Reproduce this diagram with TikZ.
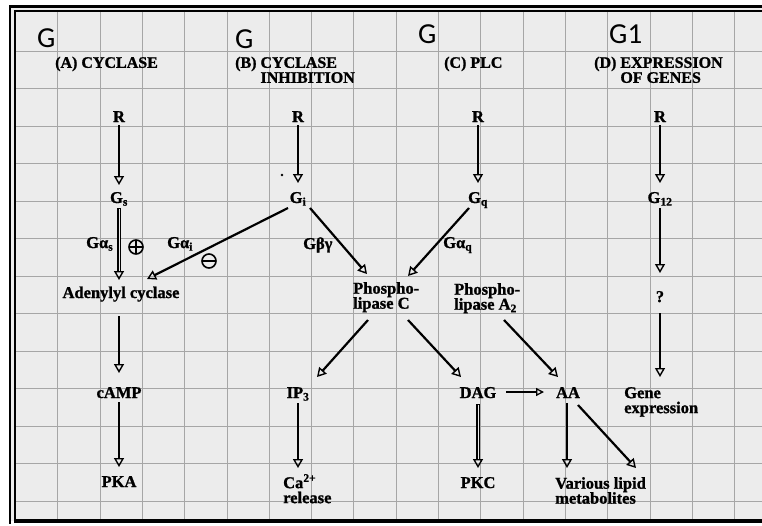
\documentclass[tikz,border=0pt]{standalone}
\usepackage{fontspec}
\setmainfont{Liberation Serif}[BoldFont=Liberation Serif Bold, BoldFeatures={FakeBold=1.2}]
\newfontfamily\calib{Carlito}
\usetikzlibrary{arrows.meta,calc}
\definecolor{bg}{HTML}{ECECEC}
\definecolor{gridc}{HTML}{A6A6A6}
\tikzset{
  lbl/.style={font=\fontsize{16.5}{15}\selectfont\bfseries, inner sep=0pt, anchor=base},
  ml/.style={font=\fontsize{16.5}{15}\selectfont\bfseries, inner sep=0pt, anchor=north west, align=left},
  hdr/.style={font=\fontsize{16}{15}\selectfont\bfseries, inner sep=0pt, anchor=north west, align=left},
  sm/.style={font=\fontsize{16.5}{15}\selectfont\bfseries, inner sep=0pt, anchor=base west},
  gl/.style={font=\calib\fontsize{29}{30}\selectfont, inner sep=0pt, anchor=base west},
  gridline/.style={gridc, line width=0.9pt},
  arr/.style={line width=2.6pt, -{Triangle[open,length=9pt,width=10pt,line width=1.4pt]}},
  darr/.style={line width=2.2pt, -{Triangle[open,length=9pt,width=10pt,line width=1.4pt]}},
  tarr/.style={line width=1.5pt, -{Triangle[open,length=8pt,width=8pt,line width=1.3pt]}},
  hollow/.style={line width=3.2pt, -{Triangle[open,length=9pt,width=10pt,line width=1.4pt]}, postaction={draw=bg, line width=1.0pt, -, shorten >=9.5pt, shorten <=0.5pt}},
  sign/.style={circle, draw, line width=1.6pt, minimum size=14pt, inner sep=0pt}
}
\begin{document}
\begin{tikzpicture}[x=1pt,y=-1pt]
\useasboundingbox (0,0) rectangle (762,525);
\fill[white] (0,0) rectangle (762,525);
\fill[bg] (10,6) rectangle (762,521);
% grid
\foreach \i in {1,...,17} \draw[gridline] ({15.5+42.3*\i},11) -- ({15.5+42.3*\i},521);
\foreach \j in {1,...,13} \draw[gridline] (15,{13.5+37.5*\j}) -- (762,{13.5+37.5*\j});
% frame
\draw[line width=2.6pt] (9,6.3) -- (762,6.3);
\draw[line width=1.8pt] (14,11) -- (762,11);
\draw[line width=1.8pt] (10,5) -- (10,524);
\draw[line width=2.6pt] (15,10) -- (15,521);
\draw[line width=3.2pt] (14,521) -- (762,521);

% G labels
\node[gl] (g1) at (37,47) {G};
\node[gl] (g2) at (235,48) {G};
\node[gl] (g3) at (418,43) {G};
\node[gl] (g4) at (609,43) {G1};

% headers
\node[hdr] (hA) at (55,56.5) {(A) CYCLASE};
\node[hdr] (hB) at (235,56.5) {(B) CYCLASE\\\hphantom{(B) }INHIBITION};
\node[hdr] (hC) at (444,56.5) {(C) PLC};
\node[hdr] (hD) at (594,56.5) {(D) EXPRESSION\\\hphantom{(D) }OF GENES};

% column A
\node[lbl] (RA) at (119,122) {R};
\node[lbl] (Gs) at (119,203) {G\textsubscript{s}};
\node[lbl] (AC) at (121,298) {Adenylyl cyclase};
\node[lbl] (cAMP) at (119,398) {cAMP};
\node[lbl] (PKA) at (119,487) {PKA};
\node[sm] (Gas) at (86,248) {Gα\textsubscript{s}};
\node[sign, path picture={\draw[line width=1.6pt] (path picture bounding box.west) -- (path picture bounding box.east) (path picture bounding box.north) -- (path picture bounding box.south);}] (plus) at (136,247) {};
\node[sm] (Gai) at (167,248) {Gα\textsubscript{i}};
\node[sign, path picture={\draw[line width=1.6pt] (path picture bounding box.west) -- (path picture bounding box.east);}] (minus) at (209,261) {};

% column B
\node[lbl] (RB) at (298,122) {R};
\node[lbl] (Gi) at (298,203) {G\textsubscript{i}};
\fill (282,175) circle (1.3);
\node[sm] (Gbg) at (303,249) {Gβγ};
\node[ml] (PLC) at (353,282) {Phospho-\\lipase C};
\node[lbl] (IP3) at (298,398) {IP\textsubscript{3}};
\node[ml] (Ca) at (283,477) {Ca\smash{\textsuperscript{2+}}\\release};

% column C
\node[lbl] (RC) at (478,122) {R};
\node[lbl] (Gq) at (478,203) {G\textsubscript{q}};
\node[sm] (Gaq) at (443,248) {Gα\textsubscript{q}};
\node[ml] (PLA) at (454,283) {Phospho-\\lipase A\textsubscript{2}};
\node[lbl] (DAG) at (478,398) {DAG};
\node[lbl] (AA) at (568,398) {AA};
\node[lbl] (PKC) at (478,488) {PKC};
\node[ml] (VLM) at (555,477) {Various lipid\\metabolites};

% column D
\node[lbl] (RD) at (660,122) {R};
\node[lbl] (G12) at (660,203) {G\textsubscript{12}};
\node[lbl] (Q) at (660,302) {?};
\node[ml] (Gene) at (624,387) {Gene\\expression};

% connectors
\draw[arr] ($(RA.base)+(0,3)$) -- ($(Gs.base)+(0,-18)$);
\draw[hollow] ($(Gs.base)+(0,5)$) -- ($(AC.base)+(-2,-18)$);
\draw[arr] ($(AC.base)+(-2,18)$) -- ($(cAMP.base)+(0,-25)$);
\draw[arr] ($(cAMP.base)+(0,4)$) -- ($(PKA.base)+(0,-20)$);

\draw[arr] ($(RB.base)+(0,3)$) -- ($(Gi.base)+(0,-20)$);
\draw[darr] ($(Gi.base)+(-10,5)$) -- ($(AC.base)+(26,-19)$);
\draw[darr] ($(Gi.base)+(12,5)$) -- ($(PLC.north west)+(14,-8)$);

\draw[arr] ($(RC.base)+(0,3)$) -- ($(Gq.base)+(0,-20)$);
\draw[darr] ($(Gq.base)+(-9,5)$) -- ($(PLC.north west)+(55,-6)$);

\draw[arr] ($(RD.base)+(0,3)$) -- ($(G12.base)+(0,-20)$);
\draw[arr] ($(G12.base)+(0,5)$) -- ($(Q.base)+(0,-29)$);
\draw[arr] ($(Q.base)+(0,11)$) -- ($(Gene.north west)+(36,-10)$);

\draw[darr] ($(PLC.north west)+(15,38)$) -- ($(IP3.base)+(19,-21)$);
\draw[darr] ($(PLC.north west)+(55,38)$) -- ($(DAG.base)+(-17,-21)$);
\draw[darr] ($(PLA.north west)+(50,37)$) -- ($(AA.base)+(-10,-21)$);
\draw[tarr] ($(DAG.base)+(28,-6)$) -- ($(AA.base)+(-24,-6)$);
\draw[arr] ($(IP3.base)+(0,5)$) -- ($(Ca.north west)+(15,-9)$);
\draw[hollow] ($(DAG.base)+(0,6)$) -- ($(PKC.base)+(0,-20)$);
\draw[arr] ($(AA.base)+(-1,5)$) -- ($(VLM.north west)+(12,-9)$);
\draw[darr] ($(AA.base)+(10,7)$) -- ($(VLM.north west)+(81,-9)$);
\end{tikzpicture}
\end{document}
